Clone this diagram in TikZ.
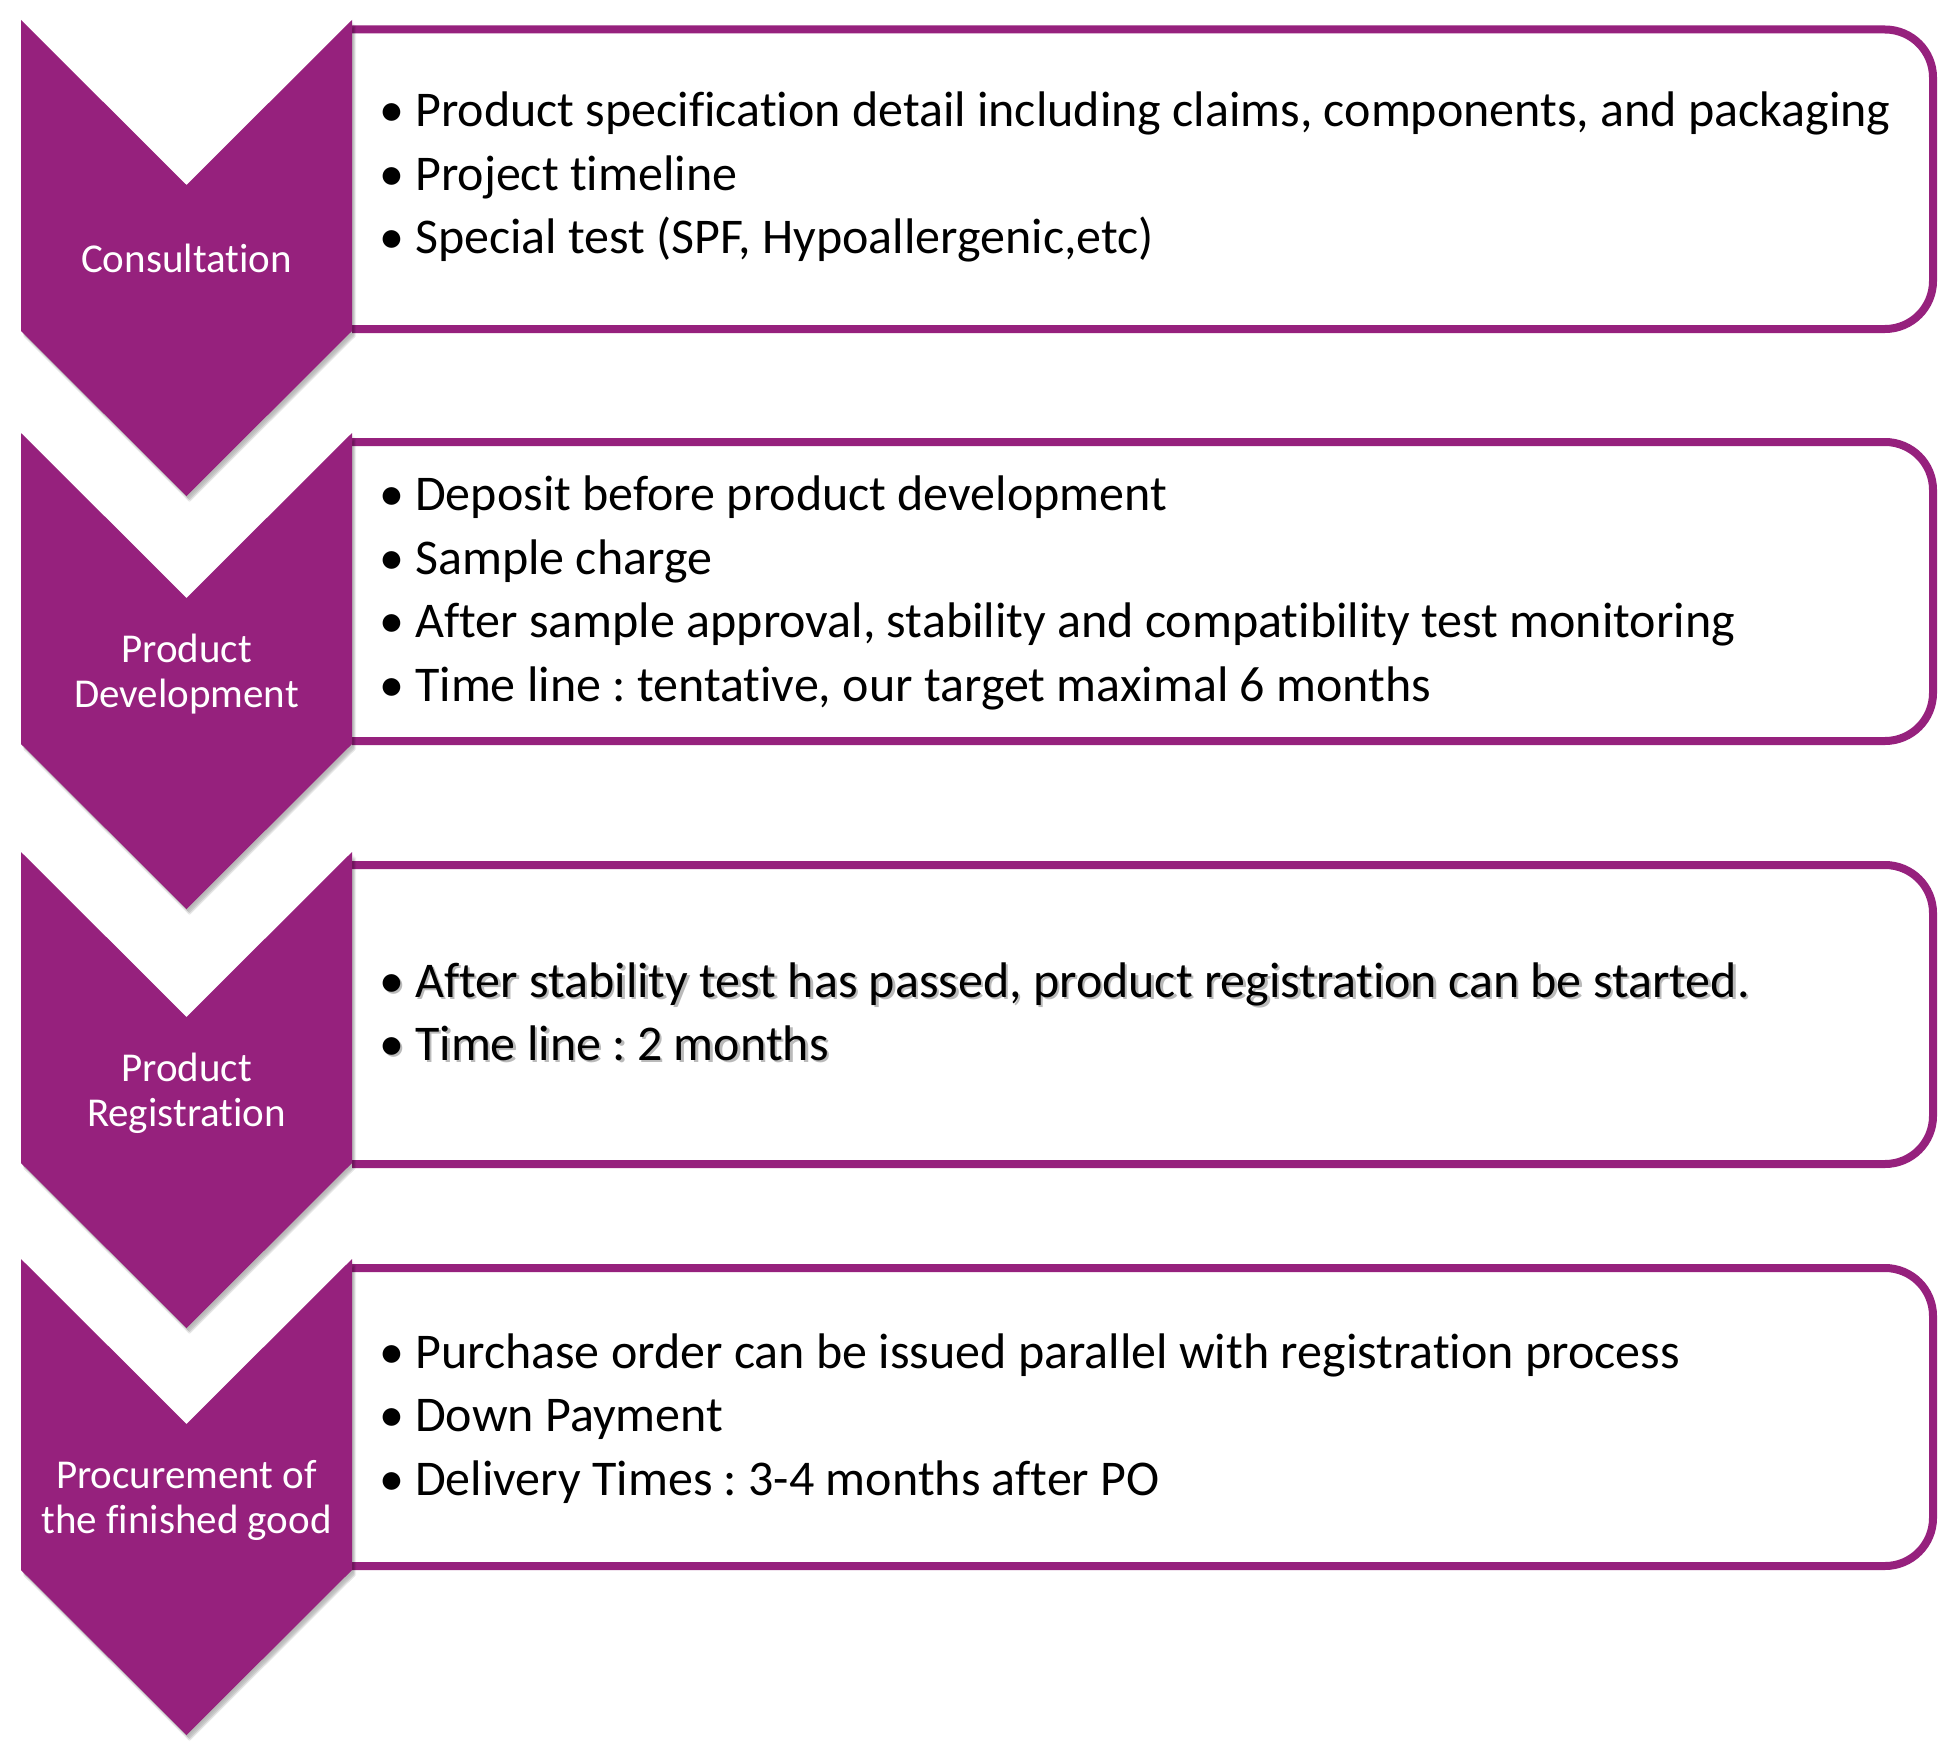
\documentclass[tikz,border=0pt]{standalone}
\usepackage{fontspec}
\setmainfont{Carlito}[Ligatures=NoCommon]
\usetikzlibrary{calc}
\definecolor{plum}{RGB}{150,33,125}
\tikzset{
  x=1pt, y=-1pt,
  panel/.style={draw=plum, line width=8pt},
  chev/.style={fill=plum},
  chevshadow/.style={fill=black, opacity=0.05},
  steplabel/.style={text=white, font=\fontsize{41}{45}\selectfont, align=center, inner sep=0pt, anchor=base},
  itemtext/.style={text=black, font=\fontsize{50}{60}\selectfont, inner sep=0pt, anchor=base west},
  itemshadow/.style={text=black!45, font=\fontsize{50}{60}\selectfont, inner sep=0pt, anchor=base west, opacity=0.6},
}
\newcommand{\chevpath}[1]{(21,#1) -- (186.5,#1+165) -- (352,#1) -- (352,#1+311) -- (186.5,#1+476) -- (21,#1+311) -- cycle}
\newcommand{\panelpath}[2]{(352,#1) -- (1885,#1) arc[start angle=-90, end angle=0, radius=48] -- (1933,#2-48) arc[start angle=0, end angle=90, radius=48] -- (352,#2)}
\begin{document}
\frenchspacing
\begin{tikzpicture}
\useasboundingbox (0,0) rectangle (1954,1755);
\fill[white] (0,0) rectangle (1954,1755);
% panels
\draw[panel] \panelpath{29.5}{329};
\draw[panel] \panelpath{442}{741};
\draw[panel] \panelpath{865}{1164};
\draw[panel] \panelpath{1268}{1566};
% chevron shadows and chevrons
\foreach \t in {20,433,852,1259}{
  \foreach \dx/\dy in {1/2,2/3,3/4,2/5,4/5,3/6}{
    \fill[chevshadow, shift={(\dx,\dy)}] \chevpath{\t};
  }
  \fill[chev] \chevpath{\t};
}
% step labels
\node[steplabel] (s1) at (186.5,272) {Consultation};
\node[steplabel] (s2a) at (186.5,662) {Product};
\node[steplabel] (s2b) at (186.5,707) {Development};
\node[steplabel] (s3a) at (186.5,1081) {Product};
\node[steplabel] (s3b) at (186.5,1126) {Registration};
\node[steplabel] (s4a) at (186.5,1488) {Procurement of};
\node[steplabel] (s4b) at (186.5,1533) {the finished good};
% bullet items
\foreach \n/\y/\txt in {
  a1/127/{Product specification detail including claims, components, and packaging},
  a2/191/{Project timeline},
  a3/254/{Special test (SPF, Hypoallergenic,etc)},
  b1/510/{Deposit before product development},
  b2/574/{Sample charge},
  b3/637/{After sample approval, stability and compatibility test monitoring},
  b4/701/{Time line : tentative, our target maximal 6 months},
  d1/1368/{Purchase order can be issued parallel with registration process},
  d2/1431/{Down Payment},
  d3/1495/{Delivery Times : 3-4 months after PO}}{
  \node[itemtext] (\n) at (379,\y) {•};
  \node[itemtext] (\n t) at (415,\y) {\txt};
}
\foreach \n/\y/\txt in {
  c1/997/{After stability test has passed, product registration can be started.},
  c2/1060/{Time line : 2 months}}{
  \node[itemshadow] (\n s) at (381.5,\y+2.5) {•};
  \node[itemshadow] (\n ts) at (417.5,\y+2.5) {\txt};
  \node[itemtext] (\n) at (379,\y) {•};
  \node[itemtext] (\n t) at (415,\y) {\txt};
}
\end{tikzpicture}
\end{document}
